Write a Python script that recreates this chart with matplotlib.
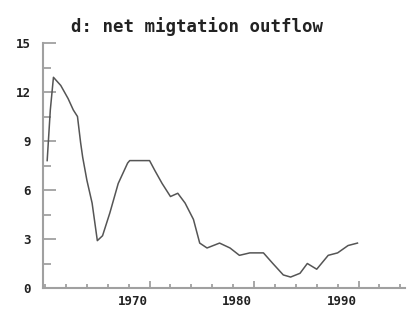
import numpy as np
import matplotlib
matplotlib.use('Agg')
import matplotlib.pyplot as plt
from matplotlib.ticker import MultipleLocator
import matplotlib.transforms as mtransforms

# Valores (año, salida neta de migración)
years = [1960.2, 1960.5, 1960.8, 1961.5, 1962.2, 1962.7, 1963.1, 1963.4, 1963.6,
         1964.0, 1964.5, 1965.0, 1965.5, 1966.2, 1967.0, 1967.9, 1968.1, 1970.0,
         1970.5, 1971.2, 1972.0, 1972.7, 1973.4, 1974.2, 1974.8, 1975.5, 1976.7,
         1977.7, 1978.6, 1979.6, 1980.9, 1981.8, 1982.8, 1983.5, 1984.4, 1985.1,
         1986.0, 1987.1, 1988.0, 1989.0, 1989.9]
outflow = [7.8, 10.9, 12.9, 12.4, 11.6, 10.9, 10.5, 8.9, 8.0,
           6.6, 5.2, 2.9, 3.2, 4.6, 6.4, 7.65, 7.8, 7.8,
           7.2, 6.4, 5.6, 5.8, 5.2, 4.2, 2.75, 2.45, 2.75,
           2.45, 2.0, 2.15, 2.15, 1.5, 0.8, 0.67, 0.9, 1.5,
           1.15, 2.0, 2.15, 2.6, 2.75]

major_years = [1970, 1980, 1990]
y_ticks = [0, 3, 6, 9, 12, 15]

axis_gray = '#a0a0a0'
font = 'DejaVu Sans Mono'

fig = plt.figure(figsize=(4.14, 3.09), dpi=100)
ax = fig.add_axes([43 / 414, 1 - 288 / 309, 362 / 414, 245 / 309])

ax.plot(years, outflow, color='#555555', linewidth=1.1)

ax.set_xlim(1959.8, 1994.45)
ax.set_ylim(0, 15)

# Solo ejes izquierdo e inferior, en gris
for side in ['top', 'right']:
    ax.spines[side].set_visible(False)
for side in ['left', 'bottom']:
    ax.spines[side].set_color(axis_gray)
    ax.spines[side].set_linewidth(1.5)

ax.set_xticks(major_years)
ax.xaxis.set_minor_locator(MultipleLocator(2))
ax.set_yticks(y_ticks)
ax.yaxis.set_minor_locator(MultipleLocator(1.5))

ax.tick_params(axis='x', which='major', direction='in', length=5, width=1.3,
               color=axis_gray, pad=5)
ax.tick_params(axis='x', which='minor', direction='in', length=3, width=1.3,
               color=axis_gray)
ax.tick_params(axis='y', which='major', direction='in', length=9, width=1.3,
               color=axis_gray, pad=9)
ax.tick_params(axis='y', which='minor', direction='in', length=6, width=1.3,
               color=axis_gray)

ax.set_xticklabels([str(y) for y in major_years], family=font,
                   fontweight='bold', fontsize=9, color='#222222')
ax.set_yticklabels([str(v) for v in y_ticks], family=font,
                   fontweight='bold', fontsize=9, color='#222222')

# Las etiquetas del eje x aparecen desplazadas a la izquierda de la marca
offset = mtransforms.ScaledTranslation(-17 / 100, 0, fig.dpi_scale_trans)
for lbl in ax.get_xticklabels():
    lbl.set_transform(lbl.get_transform() + offset)

fig.text(197 / 414, 1 - 27 / 309, 'd: net migtation outflow', family=font,
         fontweight='bold', fontsize=12.5, color='#222222',
         ha='center', va='center')

fig.savefig('out.png', dpi=100)
